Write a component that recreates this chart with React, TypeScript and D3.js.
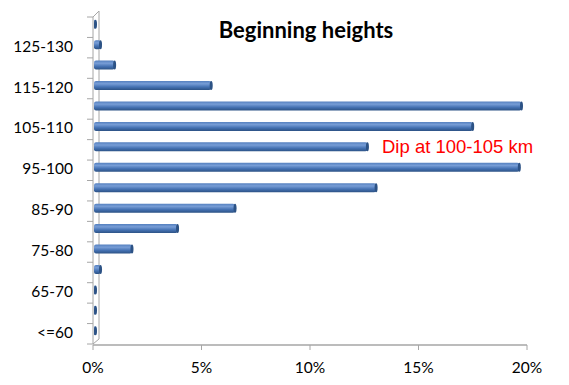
import React, { useEffect, useRef } from "react";
import * as d3 from "d3";

// height bins, bottom to top
const categories = [
  "<=60", "60-65", "65-70", "70-75", "75-80", "80-85", "85-90", "90-95",
  "95-100", "100-105", "105-110", "110-115", "115-120", "120-125", "125-130", ">130",
];
// percent of meteors per bin
const percents = [0.05, 0.05, 0.05, 0.3, 1.75, 3.85, 6.5, 13.0, 19.6, 12.6, 17.45, 19.7, 5.4, 0.95, 0.3, 0.05];
const xTicks = [0, 5, 10, 15, 20];

const App = () => {
  const ref = useRef<SVGSVGElement>(null);

  useEffect(() => {
    const svg = d3.select(ref.current);
    svg.selectAll("*").remove();

    const x = d3.scaleLinear().domain([0, 20]).range([93, 527]);
    const y = d3.scaleBand().domain(categories).range([344, 17]);
    const axisColor = "#a6a6a6";
    const labelFont = "Lato, 'Open Sans', sans-serif";

    const defs = svg.append("defs");
    const grad = defs.append("linearGradient").attr("id", "barGrad")
      .attr("x1", 0).attr("y1", 0).attr("x2", 0).attr("y2", 1);
    grad.append("stop").attr("offset", "0%").attr("stop-color", "#5580bf");
    grad.append("stop").attr("offset", "30%").attr("stop-color", "#779dd6");
    grad.append("stop").attr("offset", "65%").attr("stop-color", "#4572b3");
    grad.append("stop").attr("offset", "100%").attr("stop-color", "#2c5285");

    // 3D wall for the category axis
    const g = svg.append("g");
    g.append("path")
      .attr("d", "M93,344 L93,17 L99,11 L99,339 L93,344")
      .attr("fill", "none").attr("stroke", axisColor).attr("stroke-width", 1);
    g.append("line").attr("x1", 93).attr("x2", 527).attr("y1", 345).attr("y2", 345)
      .attr("stroke", axisColor).attr("stroke-width", 1.5);

    // y ticks at band edges
    const edges = categories.map((c) => y(c)! + y.bandwidth()).concat([y(categories[categories.length - 1])!]);
    g.selectAll(".ytick").data(edges).join("line")
      .attr("x1", 87).attr("x2", 93)
      .attr("y1", (d) => d).attr("y2", (d) => d)
      .attr("stroke", axisColor);

    // x ticks
    g.selectAll(".xtick").data(xTicks).join("line")
      .attr("x1", (d) => x(d)).attr("x2", (d) => x(d))
      .attr("y1", 345).attr("y2", 350)
      .attr("stroke", axisColor);
    g.selectAll(".xlab").data(xTicks).join("text")
      .attr("x", (d) => x(d)).attr("y", 373)
      .attr("text-anchor", "middle")
      .attr("font-family", labelFont).attr("font-size", 15.5)
      .attr("fill", "#000")
      .text((d) => d + "%");

    // y labels, every other bin
    g.selectAll(".ylab").data(categories.filter((_, i) => i % 2 === 0)).join("text")
      .attr("x", 73).attr("y", (d) => y(d)! + y.bandwidth() / 2 + 4)
      .attr("text-anchor", "end")
      .attr("font-family", labelFont).attr("font-size", 15.5)
      .attr("fill", "#000")
      .text((d) => d);

    // bars as cylinders
    const bh = 9;
    const bars = g.selectAll(".bar").data(categories).join("g");
    bars.append("rect")
      .attr("x", x(0) + 1)
      .attr("y", (d) => y(d)! + y.bandwidth() / 2 - 3 - bh / 2)
      .attr("width", (d, i) => Math.max(1.5, x(percents[i]) - x(0)))
      .attr("height", bh)
      .attr("rx", 2)
      .attr("fill", "url(#barGrad)");
    bars.append("ellipse")
      .attr("cx", (d, i) => x(0) + 1 + Math.max(1.5, x(percents[i]) - x(0)))
      .attr("cy", (d) => y(d)! + y.bandwidth() / 2 - 3)
      .attr("rx", 1.5).attr("ry", bh / 2)
      .attr("fill", "#2c5285");

    svg.append("text")
      .attr("x", 306).attr("y", 38)
      .attr("text-anchor", "middle")
      .attr("font-family", labelFont).attr("font-weight", "bold").attr("font-size", 22)
      .text("Beginning heights");

    svg.append("text")
      .attr("x", 382).attr("y", 153)
      .attr("font-family", "'Liberation Sans', Arial, sans-serif").attr("font-size", 18.5)
      .attr("fill", "#ff0000")
      .text("Dip at 100-105 km");
  }, []);

  return <svg ref={ref} width={569} height={385} style={{ display: "block", position: "absolute", left: 0, top: 0 }} />;
};

export default App;
